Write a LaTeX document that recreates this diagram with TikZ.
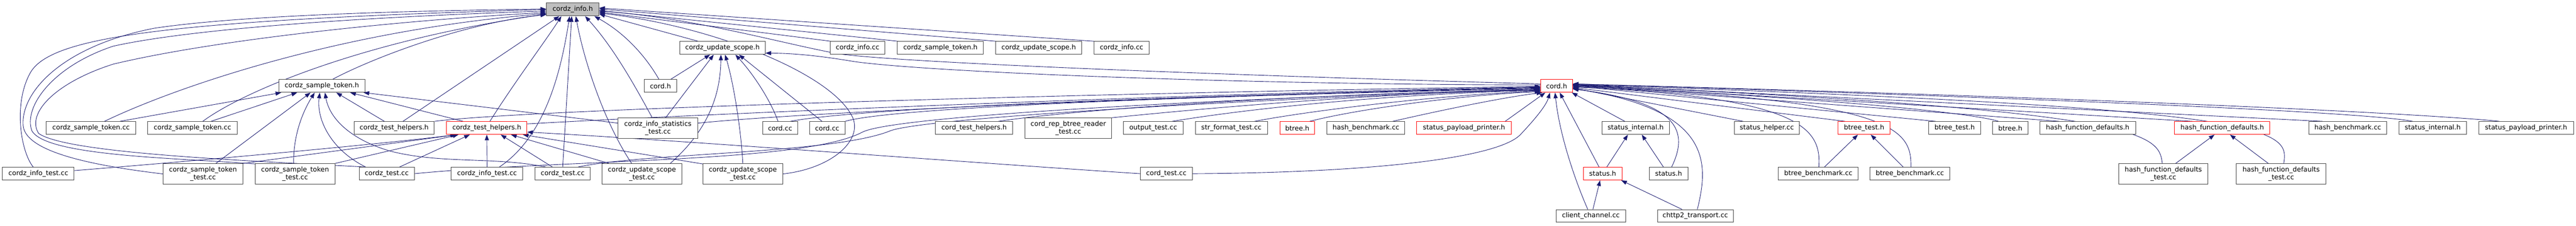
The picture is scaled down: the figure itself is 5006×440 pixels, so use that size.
\documentclass[tikz,border=0pt]{standalone}
\usepackage{fontspec}
\setmainfont{DejaVu Sans}
\usetikzlibrary{arrows.meta,backgrounds}
\definecolor{edgec}{HTML}{191970}
\definecolor{bordc}{HTML}{404040}
\definecolor{rootf}{HTML}{BFBFBF}
\tikzset{
  nb/.style={draw=bordc, fill=white, line width=1pt, inner sep=0pt, minimum height=25pt,
    font=\fontsize{13}{15}\selectfont, align=center, text=black},
  nr/.style={nb, draw=red},
  nd/.style={minimum height=40pt},
  e/.style={draw=edgec, line width=0.9pt, -{Triangle[length=11pt,width=8pt]}},
}
\begin{document}
\begin{tikzpicture}[x=1pt,y=-1pt]
\useasboundingbox (0,0) rectangle (5006,440);
% row 0
\node[nb,fill=rootf,minimum width=102pt] (ci) at (1113,18.5) {cordz\_info.h};
% row 1
\node[nb,minimum width=166pt] (cush1) at (1404,93.5) {cordz\_update\_scope.h};
\node[nb,minimum width=107pt] (cic1) at (1666.5,93.5) {cordz\_info.cc};
\node[nb,minimum width=167pt] (csth2) at (1827.5,93.5) {cordz\_sample\_token.h};
\node[nb,minimum width=167pt] (cush2) at (2018.5,93.5) {cordz\_update\_scope.h};
\node[nb,minimum width=107pt] (cic3) at (2179.5,93.5) {cordz\_info.cc};
% row 2
\node[nb,minimum width=167pt] (csth) at (625.5,167.5) {cordz\_sample\_token.h};
\node[nb,minimum width=63pt] (chb) at (1283.5,167.5) {cord.h};
\node[nr,minimum width=62pt] (cordr) at (3025,167.5) {cord.h};
% row 3
\node[nb,minimum width=174pt] (cstc1) at (177,249.5) {cordz\_sample\_token.cc};
\node[nb,minimum width=174pt] (cstc2) at (374,249.5) {cordz\_sample\_token.cc};
\node[nb,minimum width=156pt] (cthb) at (766,249.5) {cordz\_test\_helpers.h};
\node[nr,minimum width=156pt] (cthr) at (946,249.5) {cordz\_test\_helpers.h};
\node[nb,nd,minimum width=155pt] (cist) at (1278.5,250) {cordz\_info\_statistics\\\_test.cc};
\node[nb,minimum width=68pt] (cordcca) at (1516,249.5) {cord.cc};
\node[nb,minimum width=69pt] (cordccb) at (1607.5,249.5) {cord.cc};
\node[nb,minimum width=150pt] (cth) at (1893,249.5) {cord\_test\_helpers.h};
\node[nb,nd,minimum width=168pt] (crbrt) at (2076,250) {cord\_rep\_btree\_reader\\\_test.cc};
\node[nb,minimum width=116pt] (ot) at (2241,249.5) {output\_test.cc};
\node[nb,minimum width=140pt] (sft) at (2393,249.5) {str\_format\_test.cc};
\node[nr,minimum width=68pt] (btrhr) at (2521,249.5) {btree.h};
\node[nb,minimum width=151pt] (hba) at (2654.5,249.5) {hash\_benchmark.cc};
\node[nr,minimum width=184pt] (sppr) at (2845,249.5) {status\_payload\_printer.h};
\node[nb,minimum width=131pt] (sia) at (3178.5,249.5) {status\_internal.h};
\node[nb,minimum width=127pt] (sh) at (3433.5,249.5) {status\_helper.cc};
\node[nr,minimum width=101pt] (bttr) at (3622.5,249.5) {btree\_test.h};
\node[nb,minimum width=101pt] (bttb) at (3798.5,249.5) {btree\_test.h};
\node[nb,minimum width=69pt] (btrhb) at (3906.5,249.5) {btree.h};
\node[nb,minimum width=186pt] (hfdb) at (4057,249.5) {hash\_function\_defaults.h};
\node[nr,minimum width=185pt] (hfdr) at (4318.5,249.5) {hash\_function\_defaults.h};
\node[nb,minimum width=151pt] (hbb) at (4562.5,249.5) {hash\_benchmark.cc};
\node[nb,minimum width=131pt] (sib) at (4727.5,249.5) {status\_internal.h};
\node[nb,minimum width=184pt] (sppb) at (4909,249.5) {status\_payload\_printer.h};
% row 4
\node[nb,minimum width=139pt] (cita) at (74.5,338.5) {cordz\_info\_test.cc};
\node[nb,nd,minimum width=155pt] (cstta) at (394.5,339) {cordz\_sample\_token\\\_test.cc};
\node[nb,nd,minimum width=155pt] (csttb) at (573.5,339) {cordz\_sample\_token\\\_test.cc};
\node[nb,minimum width=107pt] (ctca) at (751.5,338.5) {cordz\_test.cc};
\node[nb,minimum width=139pt] (citb) at (946.5,338.5) {cordz\_info\_test.cc};
\node[nb,minimum width=107pt] (ctcb) at (1093.5,338.5) {cordz\_test.cc};
\node[nb,nd,minimum width=155pt] (custa) at (1247.5,339) {cordz\_update\_scope\\\_test.cc};
\node[nb,nd,minimum width=155pt] (custb) at (1443.5,339) {cordz\_update\_scope\\\_test.cc};
\node[nb,minimum width=101pt] (ct) at (2266.5,338.5) {cord\_test.cc};
\node[nr,minimum width=75pt] (str) at (3114.5,338.5) {status.h};
\node[nb,minimum width=75pt] (stb) at (3242.5,338.5) {status.h};
\node[nb,minimum width=155pt] (bba) at (3533.5,338.5) {btree\_benchmark.cc};
\node[nb,minimum width=155pt] (bbb) at (3711.5,338.5) {btree\_benchmark.cc};
\node[nb,nd,minimum width=174pt] (hfdta) at (4204,339) {hash\_function\_defaults\\\_test.cc};
\node[nb,nd,minimum width=174pt] (hfdtb) at (4433,339) {hash\_function\_defaults\\\_test.cc};
% row 5
\node[nb,minimum width=135pt] (cc) at (3091.5,421) {client\_channel.cc};
\node[nb,minimum width=147pt] (chtt) at (3294.5,421) {chttp2\_transport.cc};

\begin{pgfonlayer}{background}
\fill[white] (0,0) rectangle (5006,440);
% ---- into cordz_info.h
\draw[e] ([xshift=-10pt]cita.north) .. controls (40,295) and (25,200) .. (60,140) .. controls (100,75) and (300,40) .. (ci.west);
\draw[e] (cstta.west) .. controls (200,325) and (50,300) .. (45,245) .. controls (40,180) and (120,90) .. (300,55) .. controls (500,25) and (900,20) .. ([yshift=1pt]ci.west);
\draw[e] ([yshift=-1pt]csttb.north west) .. controls (350,308) and (90,305) .. (62,255) .. controls (45,210) and (100,130) .. (220,90) .. controls (400,50) and (800,30) .. ([yshift=-3pt]ci.west);
\draw[e] ([xshift=-42pt]ctca.north) .. controls (500,314) and (130,300) .. (75,260) .. controls (50,220) and (110,160) .. (220,125) .. controls (450,70) and (850,35) .. ([yshift=-6pt]ci.west);
\draw[e] ([xshift=26pt]cstc1.north) .. controls (330,175) and (650,60) .. ([yshift=-8pt]ci.west);
\draw[e] ([xshift=20pt]cstc2.north) .. controls (470,180) and (700,80) .. ([yshift=-9pt]ci.west);
\draw[e] ([xshift=21pt]csth.north) .. controls (720,115) and (900,45) .. ([yshift=-10pt]ci.west);
\draw[e] ([xshift=17pt]cthb.north) -- ([xshift=-26pt]ci.south);
\draw[e] ([xshift=6pt]cthr.north) .. controls (1000,160) and (1060,80) .. ([xshift=-22pt]ci.south);
\draw[e] ([xshift=24pt]citb.north) .. controls (1060,265) and (1090,140) .. ([xshift=-6pt]ci.south);
\draw[e] (ctcb.north) -- ([xshift=-2pt]ci.south);
\draw[e] ([xshift=-20pt]custa.north) .. controls (1175,240) and (1135,120) .. ([xshift=6pt]ci.south);
\draw[e] ([xshift=-11pt]cist.north) .. controls (1230,160) and (1190,90) .. ([xshift=24pt]ci.south);
\draw[e] ([xshift=-3pt]chb.north) .. controls (1255,110) and (1215,65) .. ([xshift=42pt]ci.south);
\draw[e] ([xshift=-47pt]cush1.north) -- ([yshift=-9pt]ci.east);
\draw[e] ([yshift=4pt]cordr.west) .. controls (2500,150) and (1780,125) .. (1630,105) .. controls (1520,85) and (1350,35) .. ([yshift=-3pt]ci.east);
\draw[e] ([yshift=2pt]cordr.west) .. controls (2400,165) and (1800,140) .. (1660,120) .. controls (1600,110) and (1550,104) .. ([yshift=-10pt]cush1.east);
\draw[e] ([xshift=3pt]cic1.north west) -- ([yshift=-5pt]ci.east);
\draw[e] ([xshift=3pt]csth2.north west) -- ([yshift=-2pt]ci.east);
\draw[e] ([xshift=3pt]cush2.north west) -- ([yshift=1pt]ci.east);
\draw[e] ([xshift=3pt]cic3.north west) -- ([yshift=3pt]ci.east);
\draw[e] (custb.east) .. controls (1620,328) and (1680,270) .. (1655,225) .. controls (1610,140) and (1380,50) .. ([yshift=-7pt]ci.east);
% ---- into cordz_sample_token.h
\draw[e] ([xshift=56pt]cstc1.north) -- ([xshift=-79pt]csth.south);
\draw[e] ([xshift=36pt]cstc2.north) -- ([xshift=-48pt]csth.south);
\draw[e] ([xshift=25pt]cstta.north) -- ([xshift=-22pt]csth.south);
\draw[e] ([xshift=-3pt]csttb.north) .. controls (570,260) and (590,215) .. ([xshift=-14pt]csth.south);
\draw[e] ([xshift=-41pt]ctca.north) .. controls (640,290) and (615,230) .. ([xshift=-4pt]csth.south);
\draw[e] ([xshift=-33pt]ctcb.north) .. controls (960,305) and (860,320) .. (760,295) .. controls (680,272) and (640,230) .. ([xshift=6pt]csth.south);
\draw[e] ([xshift=-19pt]cthb.north) -- ([xshift=28pt]csth.south);
\draw[e] ([xshift=-46pt]cthr.north) -- ([xshift=55pt]csth.south);
\draw[e] ([yshift=10pt]cist.west) -- ([xshift=-3pt]csth.south east);
% ---- into cordz_test_helpers.h (red)
\draw[e] ([yshift=6pt]cita.east) .. controls (400,312) and (750,280) .. ([xshift=-60pt]cthr.south);
\draw[e] (cstta.north east) -- ([xshift=-58pt]cthr.south);
\draw[e] (csttb.north east) -- ([xshift=-55pt]cthr.south);
\draw[e] ([xshift=25pt]ctca.north) -- ([xshift=-33pt]cthr.south);
\draw[e] (citb.north) -- (cthr.south);
\draw[e] ([xshift=-20pt]ctcb.north) -- ([xshift=27pt]cthr.south);
\draw[e] ([xshift=-64pt]custa.north) -- ([xshift=47pt]cthr.south);
\draw[e] ([yshift=-1pt]custb.north west) -- ([xshift=70pt]cthr.south);
\draw[e] (ct.west) .. controls (1900,318) and (1300,272) .. ([yshift=-8pt]cthr.east);
% ---- into cordz_update_scope.h
\draw[e] ([xshift=20pt]chb.north) -- ([xshift=-24pt]cush1.south);
\draw[e] ([xshift=15pt]cist.north) -- ([xshift=-17pt]cush1.south);
\draw[e] ([xshift=55pt]custa.north) .. controls (1380,250) and (1400,180) .. ([xshift=-3pt]cush1.south);
\draw[e] (custb.north) .. controls (1440,250) and (1425,160) .. ([xshift=5pt]cush1.south);
\draw[e] ([xshift=-4pt]cordcca.north) .. controls (1495,190) and (1460,140) .. ([xshift=25pt]cush1.south);
\draw[e] ([xshift=-10pt]cordccb.north) -- ([xshift=32pt]cush1.south);
% ---- small groups
\draw[e] ([xshift=8pt]str.north) -- ([xshift=-15pt]sia.south);
\draw[e] ([xshift=-10pt]stb.north) -- ([xshift=12pt]sia.south);
\draw[e] ([xshift=4pt]cc.north) -- ([xshift=-5pt]str.south);
\draw[e] ([xshift=-26pt]chtt.north) -- ([xshift=-2pt]str.south east);
\draw[e] ([xshift=12pt]bba.north) -- ([xshift=-12pt]bttr.south);
\draw[e] ([xshift=-13pt]bbb.north) -- ([xshift=13pt]bttr.south);
\draw[e] ([xshift=24pt]hfdta.north) -- ([xshift=-15pt]hfdr.south);
\draw[e] ([xshift=-25pt]hfdtb.north) -- ([xshift=15pt]hfdr.south);
% ---- into cord.h (red), from the left
\draw[e] (cthb.north east) .. controls (1050,210) and (2300,178) .. ([yshift=-1pt]cordr.west);
\draw[e] ([yshift=8pt]cthr.east) .. controls (1400,220) and (2400,180) .. ([yshift=-2pt]cordr.west);
\draw[e] ([yshift=10pt]cist.east) .. controls (1600,215) and (2500,180) .. ([yshift=-3pt]cordr.west);
\draw[e] ([xshift=20pt]cordcca.north) .. controls (1700,205) and (2500,182) .. ([yshift=-4pt]cordr.west);
\draw[e] (cordccb.north east) .. controls (1750,205) and (2500,183) .. ([yshift=-5pt]cordr.west);
\draw[e] (ctca.east) .. controls (1100,310) and (1560,318) .. (1675,258) .. controls (1740,222) and (2500,188) .. ([yshift=-6pt]cordr.west);
\draw[e] ([xshift=30pt]ctcb.north) .. controls (1250,298) and (1620,300) .. (1730,255) .. controls (1800,228) and (2500,190) .. ([yshift=-7pt]cordr.west);
\draw[e] ([xshift=47pt]cth.north) .. controls (2150,205) and (2700,178) .. ([yshift=-8pt]cordr.west);
\draw[e] (crbrt.north east) .. controls (2500,195) and (2800,178) .. ([yshift=-8pt]cordr.west);
\draw[e] ([xshift=37pt]ot.north) .. controls (2500,200) and (2800,180) .. ([yshift=-9pt]cordr.west);
\draw[e] ([xshift=45pt]sft.north) .. controls (2550,215) and (2800,185) .. ([yshift=-10pt]cordr.west);
\draw[e] ([xshift=24pt]btrhr.north) .. controls (2650,210) and (2850,185) .. ([yshift=-11pt]cordr.west);
\draw[e] ([xshift=52pt]hba.north) .. controls (2800,215) and (2920,190) .. ([xshift=-28pt]cordr.south);
\draw[e] ([xshift=80pt]sppr.north) -- ([xshift=-22pt]cordr.south);
\draw[e] (ct.east) .. controls (2650,337) and (2910,310) .. (2955,262) .. controls (2985,230) and (3005,205) .. ([xshift=-13pt]cordr.south);
% from below
\draw[e] ([xshift=-6pt]cc.north) .. controls (3060,350) and (3030,260) .. ([xshift=-3pt]cordr.south);
\draw[e] ([xshift=-7pt]str.north) -- ([xshift=6pt]cordr.south);
\draw[e] ([xshift=-21pt]sia.north) -- ([xshift=-2pt]cordr.south east);
% from the right
\draw[e] ([xshift=6pt]stb.north) .. controls (3280,260) and (3270,200) .. ([yshift=-6pt]cordr.east);
\draw[e] ([xshift=4pt]chtt.north) .. controls (3320,320) and (3330,215) .. ([yshift=-5pt]cordr.east);
\draw[e] ([xshift=-46pt]sh.north) -- ([yshift=-4pt]cordr.east);
\draw[e] ([xshift=-37pt]bttr.north) -- ([yshift=-3pt]cordr.east);
\draw[e] ([xshift=1pt]bba.north) .. controls (3540,250) and (3500,190) .. ([yshift=-2pt]cordr.east);
\draw[e] ([xshift=2pt]bbb.north) .. controls (3715,250) and (3680,195) .. ([yshift=-1pt]cordr.east);
\draw[e] ([xshift=-37pt]bttb.north) -- (cordr.east);
\draw[e] ([xshift=-23pt]btrhb.north) .. controls (3860,228) and (3700,200) .. ([yshift=1pt]cordr.east);
\draw[e] ([xshift=-55pt]hfdb.north) -- ([yshift=1pt]cordr.east);
\draw[e] ([xshift=-2pt]hfdta.north) .. controls (4195,260) and (4170,215) .. ([yshift=2pt]cordr.east);
\draw[e] ([xshift=-58pt]hfdr.north) -- ([yshift=2pt]cordr.east);
\draw[e] ([xshift=5pt]hfdtb.north) .. controls (4450,250) and (4420,210) .. ([yshift=3pt]cordr.east);
\draw[e] ([xshift=-49pt]hbb.north) -- ([yshift=3pt]cordr.east);
\draw[e] ([xshift=-39pt]sib.north) .. controls (4640,227) and (4400,205) .. ([yshift=4pt]cordr.east);
\draw[e] ([xshift=-52pt]sppb.north) .. controls (4800,230) and (4400,200) .. ([yshift=4pt]cordr.east);
\end{pgfonlayer}
\end{tikzpicture}
\end{document}
